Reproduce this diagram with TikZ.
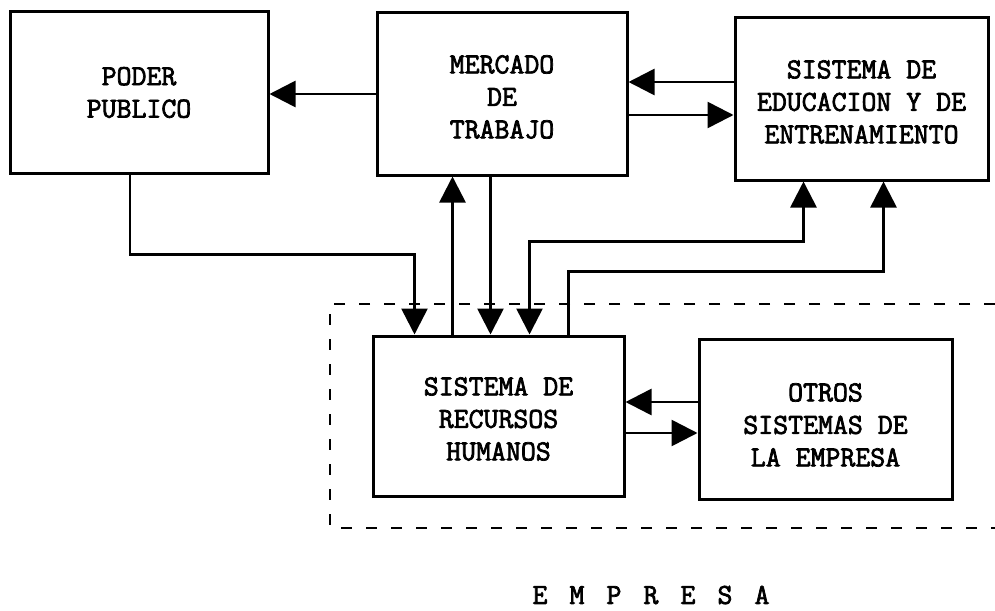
\documentclass[tikz,border=0pt]{standalone}
\usepackage{fontspec}
\usetikzlibrary{arrows.meta}
\newfontfamily\typeface[FakeBold=2.5]{Latin Modern Mono}
\newcommand{\typefont}{\fontsize{29}{32.5}\selectfont\typeface\bfseries}
\tikzset{
  box/.style={draw, line width=3pt, align=center, inner sep=0pt, font=\typefont},
  arr/.style={line width=2.6pt, -{Triangle[length=26pt,width=26pt]}},
  arrboth/.style={line width=2.6pt, {Triangle[length=26pt,width=26pt]}-{Triangle[length=26pt,width=26pt]}},
  dashbox/.style={line width=2.6pt, dash pattern=on 11pt off 14pt},
  title/.style={inner sep=0pt, font=\typefont}
}
\newcommand{\spacedletter}[1]{\makebox[37pt]{#1}}
\newcommand{\toppad}[1]{\rule{0pt}{#1}}
\begin{document}
\begin{tikzpicture}[x=1pt,y=-1pt]
\useasboundingbox (0,0) rectangle (995,610);
\fill[white] (0,0) rectangle (995,610);

% boxes
\node[box, minimum width=258pt, minimum height=161pt] (poder) at (139,92.5) {PODER\\PUBLICO};
\node[box, minimum width=250pt, minimum height=162pt] (mercado) at (502,94) {\toppad{24pt}MERCADO\\DE\\TRABAJO};
\node[box, minimum width=253pt, minimum height=162pt] (educ) at (861.5,99) {\toppad{24pt}SISTEMA DE\\EDUCACION Y DE\\ENTRENAMIENTO};
\node[box, minimum width=251pt, minimum height=160pt] (hr) at (498.5,416) {\toppad{24pt}SISTEMA DE\\RECURSOS\\HUMANOS};
\node[box, minimum width=253pt, minimum height=160pt] (otros) at (825.5,419) {\toppad{30pt}OTROS\\SISTEMAS DE\\LA EMPRESA};

% company boundary
\draw[dashbox] (995,304) -- (330,304) -- (330,528) -- (995,528);
\node[title] (empresa) at (651,595) {\spacedletter{E}\spacedletter{M}\spacedletter{P}\spacedletter{R}\spacedletter{E}\spacedletter{S}\spacedletter{A}};

% helper coordinates on the borders
\path (educ.west) ++(0,-17) coordinate (e1);
\path (mercado.east) ++(0,21) coordinate (m1);
\path (poder.south) ++(-9,0) coordinate (p1);
\path (hr.north) ++(-84,0) coordinate (h1);
\path (hr.north) ++(-46,0) coordinate (h2);
\path (hr.north) ++(-8,0) coordinate (h3);
\path (hr.north) ++(31,0) coordinate (h4);
\path (hr.north) ++(70,0) coordinate (h5);
\path (educ.south) ++(-58,0) coordinate (ed1);
\path (educ.south) ++(22,0) coordinate (ed2);
\path (otros.west) ++(0,-17) coordinate (o1);
\path (hr.east) ++(0,17) coordinate (r1);

% connectors
\draw[arr] (mercado.west) -- (mercado.west -| poder.east);
\draw[arr] (e1) -- (e1 -| mercado.east);
\draw[arr] (m1) -- (m1 -| educ.west);
\draw[arr] (p1) -- ++(0,80) -| (h1);
\draw[arr] (h2) -- (h2 |- mercado.south);
\draw[arr] (h3 |- mercado.south) -- (h3);
\draw[arrboth] (ed1) -- ++(0,60) -| (h4);
\draw[arr] (h5) -- ++(0,-63) -| (ed2);
\draw[arr] (o1) -- (o1 -| hr.east);
\draw[arr] (r1) -- (r1 -| otros.west);
\end{tikzpicture}
\end{document}
